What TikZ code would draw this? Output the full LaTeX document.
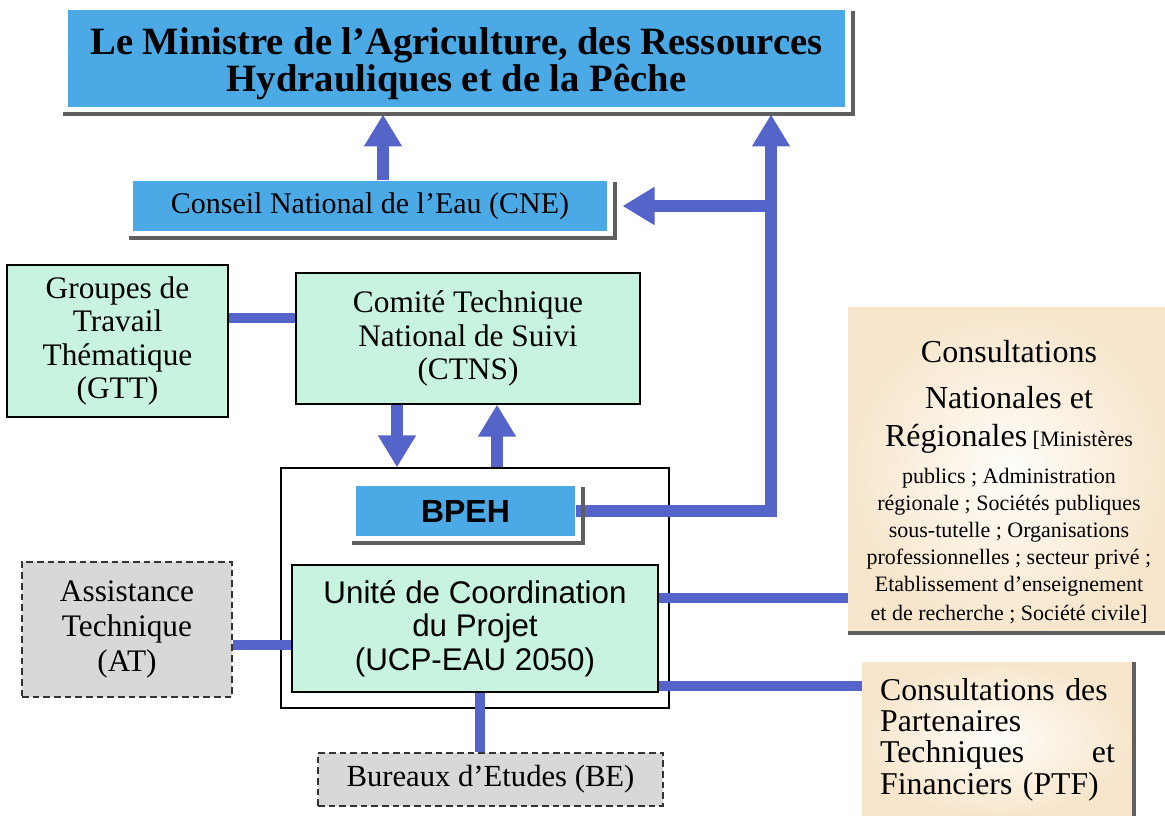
\documentclass[tikz,border=0pt]{standalone}
\usepackage{fontspec}
\setmainfont{Liberation Serif}
\setsansfont{Liberation Sans}
\usetikzlibrary{arrows.meta,calc}

\definecolor{bleuboite}{RGB}{75,170,230}
\definecolor{vertboite}{RGB}{200,243,222}
\definecolor{bleufleche}{RGB}{85,100,200}
\definecolor{grisboite}{RGB}{216,216,216}
\definecolor{creme}{RGB}{254,253,249}
\definecolor{peche}{RGB}{247,230,204}
\definecolor{ombregris}{RGB}{95,95,95}

\tikzset{every picture/.style={line width=0.75pt}}

\tikzset{
  boitebleue/.style={fill=bleuboite, inner sep=0pt, align=center},
  boiteverte/.style={draw=black, fill=vertboite, line width=1pt, inner sep=0pt, align=center},
  boitegrise/.style={draw=black!80, fill=grisboite, dash pattern=on 5pt off 3pt, line width=1pt, inner sep=0pt, align=center},
  boitecreme/.style={inner color=creme, outer color=peche, inner sep=0pt},
  ombre/.style={draw=ombregris, line width=3pt},
  lien/.style={draw=bleufleche, line width=7.5pt},
  fleche/.style={draw=bleufleche, line width=9pt, -{Triangle[width=27pt,length=24pt]}},
}

\begin{document}
\begin{tikzpicture}[x=0.75pt,y=0.75pt,yscale=-1,xscale=1]
\path[use as bounding box] (0,0) rectangle (1165,816);

%Ministre
\node[boitebleue, minimum width=583pt, minimum height=72.75pt, font=\fontsize{29}{26}\selectfont\bfseries] (ministre) at (456.5,58.5) {\rule{0pt}{28pt}Le Ministre de l’Agriculture, des Ressources\\Hydrauliques et de la Pêche};
%CNE
\node[boitebleue, minimum width=355.5pt, minimum height=37.5pt, font=\fontsize{22.5}{26}\selectfont] (cne) at (370,206) {Conseil National de l’Eau (CNE)};
%GTT
\node[boiteverte, minimum width=165.75pt, minimum height=114pt, font=\fontsize{23.5}{25}\selectfont] (gtt) at (117.5,341) {Groupes de\\Travail\\Thématique\\(GTT)};
%CTNS
\node[boiteverte, minimum width=258pt, minimum height=98.25pt, font=\fontsize{23.5}{25}\selectfont] (ctns) at (468,338.5) {Comité Technique\\National de Suivi\\(CTNS)};
%Cadre du projet
\node[draw=black, line width=1pt, minimum width=291pt, minimum height=180pt, inner sep=0pt] (projet) at (475,588) {};
%BPEH
\node[boitebleue, minimum width=164.25pt, minimum height=37.5pt, font=\sffamily\bfseries\fontsize{24}{24}\selectfont] (bpeh) at (465.5,511) {BPEH};
%UCP
\node[boiteverte, minimum width=274.5pt, minimum height=95.25pt, font=\sffamily\fontsize{23.5}{25}\selectfont] (ucp) at (475,628.5) {Unité de Coordination\\du Projet\\(UCP-EAU 2050)};
%AT
\node[boitegrise, minimum width=157.5pt, minimum height=101.25pt, font=\fontsize{23.5}{26}\selectfont] (assist) at (127,629.5) {Assistance\\Technique\\(AT)};
%BE
\node[boitegrise, minimum width=258.75pt, minimum height=39.75pt, font=\fontsize{23}{26}\selectfont] (bureaux) at (490.5,779.5) {Bureaux d’Etudes (BE)};
%Consultations nationales
\node[boitecreme, minimum width=241.5pt, minimum height=243.75pt, align=center, font=\fontsize{16.5}{20.25}\selectfont] (consnat) at (1009,470.5) {\rule{0pt}{34pt}{\fontsize{24}{24}\selectfont Consultations}\\[14.75pt]
  {\fontsize{24}{24}\selectfont Nationales et}\\[8.25pt]
  {\fontsize{24}{24}\selectfont Régionales} [Ministères\\[7.5pt]
  publics ; Administration\\
  régionale ; Sociétés publiques\\
  sous-tutelle ; Organisations\\
  professionnelles ; secteur privé ;\\
  Etablissement d’enseignement\\[1.5pt]
  et de recherche ; Société civile]};
%PTF
\node[boitecreme, minimum width=203.25pt, minimum height=114.75pt, align=left, text width=176pt, font=\fontsize{23.8}{23.5}\selectfont] (ptf) at (997.5,739.5) {Consultations des\\Partenaires\\Techniques\hfill et\\Financiers (PTF)};

% Straight Lines
\draw[fleche, shorten >=5.25pt] ($(cne.north)+(13,0)$) -- ($(cne.north |- ministre.south)+(13,0)$);
\draw[lien] ($(gtt.east)+(0,-23)$) -- ($(ctns.west)+(0,-20.5)$);
\draw[fleche] ($(ctns.south)+(-71,0)$) -- ($(ctns.south |- projet.north)+(-71,0)$);
\draw[fleche] ($(projet.north)+(22,0)$) -- ($(projet.north |- ctns.south)+(22,0)$);
\draw[fleche, shorten >=5.25pt] (bpeh.east) -| ($(ministre.south)+(314.5,0)$);
\draw[fleche] ($(cne.east)+(164,0)$) -- ($(cne.east)+(15,0)$);
\draw[lien] ($(assist.east)+(0,15.5)$) -- ($(ucp.west)+(0,16.5)$);
\draw[lien] ($(ucp.east)+(0,-30.5)$) -- ($(ucp.east -| consnat.west)+(0,-30.5)$);
\draw[lien] ($(ucp.east)+(0,57.5)$) -- ($(ucp.east -| ptf.west)+(0,57.5)$);
\draw[lien] ($(ucp.south)+(5,0)$) -- ($(ucp.south |- bureaux.north)+(5,0)$);

% Ombres
\foreach \n in {ministre,cne,bpeh}
  \draw[ombre] ($(\n.south west)+(-4,7)$) -| ($(\n.north east)+(7,2)$);
\draw[ombre] (consnat.south west) -- (consnat.south east);
\draw[ombre] (ptf.north east) -- (ptf.south east);

\end{tikzpicture}
\end{document}
